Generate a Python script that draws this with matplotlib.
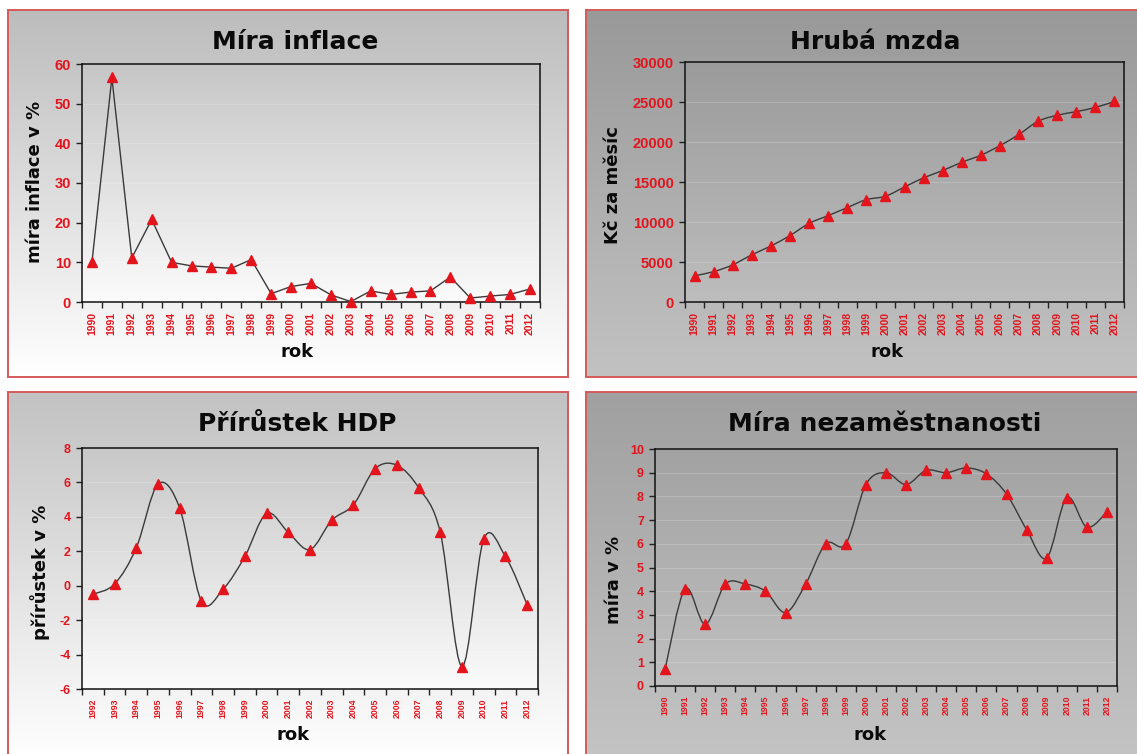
import numpy as np
import matplotlib
matplotlib.use("Agg")
import matplotlib.pyplot as plt
from matplotlib.path import Path
from matplotlib.patches import PathPatch

plt.rcParams["axes.unicode_minus"] = False

# ---- data ----
roky_90 = list(range(1990, 2013))
roky_92 = list(range(1992, 2013))

inflace = [10.0, 56.6, 11.1, 20.8, 10.0, 9.1, 8.8, 8.5, 10.7, 2.1, 3.9, 4.7,
           1.8, 0.1, 2.8, 1.9, 2.5, 2.8, 6.3, 1.0, 1.5, 1.9, 3.3]
mzda = [3286, 3792, 4644, 5904, 7004, 8307, 9825, 10802, 11801, 12797, 13219,
        14378, 15524, 16430, 17466, 18344, 19546, 20957, 22592, 23344, 23797,
        24319, 25067]
hdp = [-0.5, 0.1, 2.2, 5.9, 4.5, -0.9, -0.2, 1.7, 4.2, 3.1, 2.1, 3.8, 4.7,
       6.8, 7.0, 5.7, 3.1, -4.7, 2.7, 1.7, -1.1]
nezam = [0.7, 4.1, 2.6, 4.3, 4.3, 4.0, 3.1, 4.3, 6.0, 6.0, 8.5, 9.0, 8.5, 9.1,
         9.0, 9.2, 8.95, 8.1, 6.6, 5.4, 7.95, 6.7, 7.35]

RED = "#e3141c"
W, H = 1137, 754

fig = plt.figure(figsize=(W / 100, H / 100), dpi=100)
fig.patch.set_facecolor("white")


def px(x0, y0, x1, y1):
    # pixel box (top-left origin) -> figure fraction rect
    return [x0 / W, 1 - y1 / H, (x1 - x0) / W, (y1 - y0) / H]


def gradient(ax, top, bottom, z=0):
    g = np.linspace(0, 1, 256).reshape(-1, 1)
    t = np.array(matplotlib.colors.to_rgb(top))
    b = np.array(matplotlib.colors.to_rgb(bottom))
    img = t[None, None, :] * (1 - g[:, :, None]) + b[None, None, :] * g[:, :, None]
    ax.imshow(img, extent=[0, 1, 0, 1], transform=ax.transAxes,
              aspect="auto", zorder=z, interpolation="bilinear")


def panel(rect, top, bottom):
    bg = fig.add_axes(px(*rect))
    gradient(bg, top, bottom)
    bg.set_xlim(0, 1)
    bg.set_ylim(0, 1)
    bg.set_xticks([])
    bg.set_yticks([])
    for s in bg.spines.values():
        s.set_color("#d65a5a")
        s.set_linewidth(1.4)
    return bg


def smooth_path(x, y):
    # bezier segments with catmull-rom style control points
    x = np.asarray(x, float)
    y = np.asarray(y, float)
    n = len(x)
    verts = [(x[0], y[0])]
    codes = [Path.MOVETO]
    for i in range(n - 1):
        i0 = max(i - 1, 0)
        i3 = min(i + 2, n - 1)
        c1 = (x[i] + (x[i + 1] - x[i0]) / 6, y[i] + (y[i + 1] - y[i0]) / 6)
        c2 = (x[i + 1] - (x[i3] - x[i]) / 6, y[i + 1] - (y[i3] - y[i]) / 6)
        verts += [c1, c2, (x[i + 1], y[i + 1])]
        codes += [Path.CURVE4] * 3
    return Path(verts, codes)


def chart(rect, top, bottom, roky, vals, ylim, ystep, ytsize, xtsize, smooth):
    ax = fig.add_axes(px(*rect))
    ax.set_facecolor("none")
    gradient(ax, top, bottom, z=-5)
    xs = np.arange(len(roky))
    for yv in np.arange(ylim[0] + ystep, ylim[1], ystep):
        ax.axhline(yv, color="#ffffff", lw=0.8, alpha=0.18, zorder=1)
    if smooth:
        ax.add_patch(PathPatch(smooth_path(xs, vals), fill=False,
                               edgecolor="#3a3a3a", lw=1.0, zorder=2))
    else:
        ax.plot(xs, vals, color="#3a3a3a", lw=1.0, zorder=2)
    ax.plot(xs, vals, ls="none", marker="^", ms=7.5, color=RED,
            markeredgecolor=RED, zorder=3, clip_on=False)
    ax.set_xlim(-0.5, len(roky) - 0.5)
    ax.set_ylim(*ylim)
    ax.set_yticks(np.arange(ylim[0], ylim[1] + ystep / 2, ystep))
    ax.set_xticks(xs)
    ax.set_xticklabels([str(r) for r in roky], rotation=90, fontsize=xtsize,
                       color=RED, fontweight="bold", family="Liberation Sans")
    ax.set_xticks(np.arange(-0.5, len(roky)), minor=True)
    ax.tick_params(axis="x", which="major", length=0, pad=7)
    ax.tick_params(axis="x", which="minor", length=4, width=1, color="#222222")
    ax.tick_params(axis="y", length=4, width=1, color="#222222", pad=4)
    for lab in ax.get_yticklabels():
        lab.set_color(RED)
        lab.set_fontweight("bold")
        lab.set_fontsize(ytsize)
        lab.set_family("Liberation Sans")
    for s in ax.spines.values():
        s.set_color("#111111")
        s.set_linewidth(1.1)
    return ax


# panel backgrounds
panel((8, 10, 568, 377), "#bcbcbc", "#ffffff")
panel((586, 10, 1145, 377), "#999999", "#c2c2c2")
panel((8, 392, 568, 760), "#c2c2c2", "#ffffff")
panel((586, 392, 1145, 760), "#a0a0a0", "#c4c4c4")

# Míra inflace
ax1 = chart((82, 64, 540, 302), "#c6c6c6", "#fbfbfb", roky_90, inflace,
            (0, 60), 10, 10.5, 7.5, False)
# Hrubá mzda
ax2 = chart((685, 62, 1124, 302), "#9b9b9b", "#bdbdbd", roky_90, mzda,
            (0, 30000), 5000, 10.5, 7.5, True)
# Přírůstek HDP
ax3 = chart((82, 448, 538, 689), "#c8c8c8", "#fbfbfb", roky_92, hdp,
            (-6, 8), 2, 9, 6.3, True)
# Míra nezaměstnanosti
ax4 = chart((655, 449, 1117, 686), "#a2a2a2", "#c0c0c0", roky_90, nezam,
            (0, 10), 1, 9, 6.3, True)

tkw = dict(fontsize=18, fontweight="bold", ha="center", va="center",
           color="#0a0a0a")
fig.text(295 / W, 1 - 42 / H, "Míra inflace", **tkw)
fig.text(875 / W, 1 - 42 / H, "Hrubá mzda", **tkw)
fig.text(297 / W, 1 - 424 / H, "Přírůstek HDP", **tkw)
fig.text(885 / W, 1 - 424 / H, "Míra nezaměstnanosti", **tkw)

lkw = dict(fontsize=13, fontweight="bold", ha="center", va="center",
           color="#0a0a0a")
fig.text(35 / W, 1 - 182 / H, "míra inflace v %", rotation=90, **lkw)
fig.text(613 / W, 1 - 185 / H, "Kč za měsíc", rotation=90, **lkw)
fig.text(40 / W, 1 - 572 / H, "přírůstek v %", rotation=90, **lkw)
fig.text(614 / W, 1 - 580 / H, "míra v %", rotation=90, **lkw)

fig.text(297 / W, 1 - 352 / H, "rok", **lkw)
fig.text(887 / W, 1 - 352 / H, "rok", **lkw)
fig.text(293 / W, 1 - 735 / H, "rok", **lkw)
fig.text(870 / W, 1 - 735 / H, "rok", **lkw)

fig.savefig("out.png", dpi=100)
